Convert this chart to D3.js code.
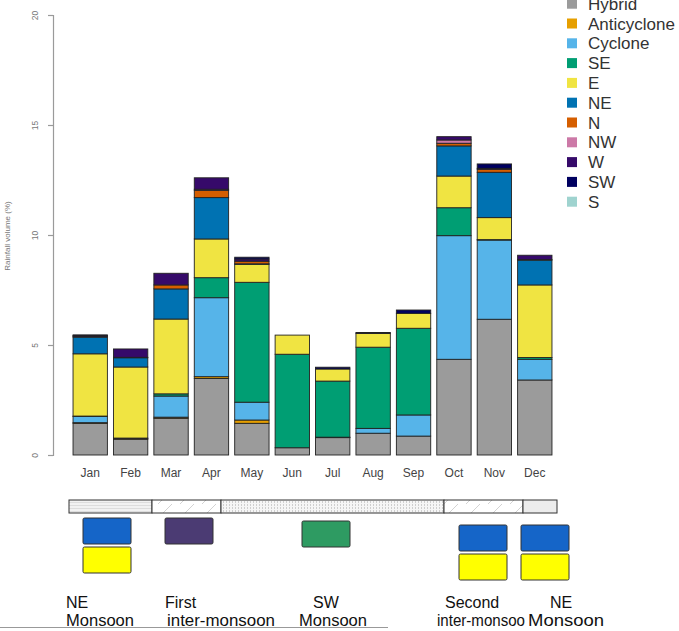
<!DOCTYPE html>
<html>
<head>
<meta charset="utf-8">
<script src="https://cdn.jsdelivr.net/npm/d3@7"></script>
<style>
  html, body { margin: 0; padding: 0; background: #fff; }
  svg { display: block; font-family: "Liberation Sans", Arial, sans-serif; }
</style>
</head>
<body>
<svg id="chart" width="679" height="631"></svg>
<script>
// ---------- data ----------
const months = ["Jan","Feb","Mar","Apr","May","Jun","Jul","Aug","Sep","Oct","Nov","Dec"];
const seriesNames = ["Hybrid","Anticyclone","Cyclone","SE","E","NE","N","NW","W","SW","S"];
const hybrid      = [1.44, 0.72, 1.67, 3.48, 1.44, 0.33, 0.79, 0.99, 0.86, 4.35, 6.17, 3.41];
const anticyclone = [0.03, 0.02, 0.05, 0.08, 0.15, 0.00, 0.00, 0.00, 0.00, 0.00, 0.00, 0.00];
const cyclone     = [0.28, 0.00, 0.96, 3.59, 0.81, 0.00, 0.02, 0.22, 0.96, 5.62, 3.60, 0.94];
const se          = [0.02, 0.03, 0.10, 0.91, 5.45, 4.25, 2.55, 3.69, 3.94, 1.27, 0.02, 0.08];
const e           = [2.83, 3.23, 3.40, 1.76, 0.82, 0.87, 0.55, 0.63, 0.68, 1.44, 1.00, 3.30];
const ne          = [0.76, 0.42, 1.37, 1.88, 0.02, 0.00, 0.00, 0.00, 0.00, 1.37, 2.06, 1.13];
const n           = [0.02, 0.02, 0.18, 0.33, 0.12, 0.00, 0.00, 0.00, 0.00, 0.12, 0.14, 0.02];
const nw          = [0.00, 0.00, 0.00, 0.05, 0.00, 0.00, 0.00, 0.00, 0.00, 0.15, 0.00, 0.00];
const w           = [0.05, 0.38, 0.53, 0.52, 0.10, 0.00, 0.00, 0.00, 0.00, 0.15, 0.04, 0.20];
const sw          = [0.03, 0.00, 0.00, 0.00, 0.08, 0.00, 0.08, 0.04, 0.15, 0.00, 0.20, 0.00];
const s           = [0.00, 0.00, 0.00, 0.00, 0.00, 0.00, 0.00, 0.00, 0.00, 0.00, 0.00, 0.00];
const seriesColors = ["#9b9b9b","#e69f00","#56b4e9","#009e73","#f0e442","#0072b2","#d55e00","#cc79a7","#360a6a","#000060","#9fd3cf"];
const yTicks = [0, 5, 10, 15, 20];

// seasons and their wind boxes
const seasonNames = ["NE Monsoon","First inter-monsoon","SW Monsoon","Second inter-monsoon","NE Monsoon"];
const seasonLabel1 = ["NE", "First", "SW", "Second", "NE"];
const seasonLabel2 = ["Monsoon", "inter-monsoon", "Monsoon", "inter-monsoo", "Monsoon"];
const seasonBoxColors = [["#1565c8","#ffff00"],["#4b3b73"],["#2e9b62"],["#1565c8","#ffff00"],["#1565c8","#ffff00"]];

// ---------- build table ----------
const cols = [hybrid, anticyclone, cyclone, se, e, ne, n, nw, w, sw, s];
const table = months.map((m, i) => {
  const row = { month: m };
  seriesNames.forEach((k, j) => row[k] = cols[j][i]);
  return row;
});

const svg = d3.select("#chart");

const x = d3.scaleBand().domain(months).range([70, 555]).paddingInner(0.15).paddingOuter(0.075);
const y = d3.scaleLinear().domain([0, 20]).range([455, 15]);
const color = d3.scaleOrdinal().domain(seriesNames).range(seriesColors);

const stack = d3.stack().keys(seriesNames)(table);

// bars
svg.append("g").selectAll("g").data(stack).join("g")
  .attr("fill", d => color(d.key))
  .selectAll("rect").data(d => d.filter(p => p[1] - p[0] > 0)).join("rect")
  .attr("x", d => x(d.data.month))
  .attr("width", x.bandwidth())
  .attr("y", d => y(d[1]))
  .attr("height", d => y(d[0]) - y(d[1]))
  .attr("stroke", "#222")
  .attr("stroke-width", 0.9);

// y axis
const yAxis = svg.append("g").attr("transform", "translate(53,0)")
  .call(d3.axisLeft(y).tickValues(yTicks).tickSize(5).tickFormat(d3.format("d")));
yAxis.select(".domain").attr("stroke", "#9a9a9a").attr("stroke-width", 1.2);
yAxis.selectAll(".tick line").attr("stroke", "#9a9a9a").attr("stroke-width", 1.2);
yAxis.selectAll(".tick text")
  .attr("fill", "#777").attr("font-size", 8.5)
  .attr("x", 0).attr("dy", 0)
  .attr("text-anchor", "middle")
  .attr("transform", "translate(-15,0) rotate(-90)");

svg.append("text")
  .attr("transform", "translate(10,236) rotate(-90)")
  .attr("text-anchor", "middle")
  .attr("font-size", 8).attr("fill", "#777")
  .text("Rainfall volume (%)");

// x labels
svg.append("g").selectAll("text").data(months).join("text")
  .attr("x", d => x(d) + x.bandwidth() / 2)
  .attr("y", 477)
  .attr("text-anchor", "middle")
  .attr("font-size", 12).attr("fill", "#444")
  .text(d => d);

// legend
const lg = svg.append("g");
seriesNames.forEach((k, i) => {
  const cy = 3.7 + i * 19.8;
  lg.append("rect").attr("x", 567).attr("y", cy - 5).attr("width", 10).attr("height", 10).attr("fill", color(k));
  lg.append("text").attr("x", 588).attr("y", cy + 6).attr("font-size", 17).attr("fill", "#333").text(k);
});

// ---------- season band ----------
const defs = svg.append("defs");
const p1 = defs.append("pattern").attr("id", "pHoriz").attr("patternUnits", "userSpaceOnUse").attr("width", 4).attr("height", 3);
p1.append("rect").attr("width", 4).attr("height", 3).attr("fill", "#f2f2f2");
p1.append("line").attr("x1", 0).attr("x2", 4).attr("y1", 1.5).attr("y2", 1.5).attr("stroke", "#d8d8d8").attr("stroke-width", 0.8);
const p2 = defs.append("pattern").attr("id", "pDiag").attr("patternUnits", "userSpaceOnUse").attr("width", 22).attr("height", 14);
p2.append("rect").attr("width", 22).attr("height", 14).attr("fill", "#fff");
p2.append("line").attr("x1", 4).attr("y1", 14).attr("x2", 18).attr("y2", 0).attr("stroke", "#c8c8c8").attr("stroke-width", 0.8);
const p3 = defs.append("pattern").attr("id", "pVert").attr("patternUnits", "userSpaceOnUse").attr("width", 3).attr("height", 3);
p3.append("rect").attr("width", 3).attr("height", 3).attr("fill", "#f6f6f6");
p3.append("rect").attr("x", 1).attr("y", 0).attr("width", 1).attr("height", 2).attr("fill", "#cfcfcf");
const p5 = defs.append("pattern").attr("id", "pLight").attr("patternUnits", "userSpaceOnUse").attr("width", 4).attr("height", 4);
p5.append("rect").attr("width", 4).attr("height", 4).attr("fill", "#ececec");

const bandFills = ["url(#pHoriz)", "url(#pDiag)", "url(#pVert)", "url(#pDiag)", "url(#pLight)"];
const bandX0 = [69, 152, 221, 444, 523];
const bandX1 = [152, 221, 444, 523, 557];
const band = svg.append("g");
seasonNames.forEach((nm, i) => {
  band.append("rect").attr("x", bandX0[i]).attr("y", 500).attr("width", bandX1[i] - bandX0[i]).attr("height", 13)
    .attr("fill", bandFills[i]).attr("stroke", "#333").attr("stroke-width", 1);
});

// season wind boxes
const boxX = [83, 165, 302, 459, 521];
const boxY = [518, 518, 521, 525, 525];
seasonBoxColors.forEach((cs, i) => {
  cs.forEach((c, j) => {
    band.append("rect").attr("x", boxX[i]).attr("y", boxY[i] + j * 29).attr("width", 48).attr("height", 26)
      .attr("rx", 1.5).attr("fill", c).attr("stroke", "#333").attr("stroke-width", 1);
  });
});

// season labels
const labX = [66, 167, 299, 437, 528];
const labW = [68, 108, 68, 88, 76];
const labX1 = [66, 165, 313, 445, 550];
seasonNames.forEach((nm, i) => {
  band.append("text").attr("x", labX1[i]).attr("y", 608).attr("font-size", 16).attr("fill", "#111").text(seasonLabel1[i]);
  band.append("text").attr("x", labX[i]).attr("y", 626).attr("font-size", 16).attr("fill", "#111")
    .attr("textLength", labW[i]).attr("lengthAdjust", "spacingAndGlyphs").text(seasonLabel2[i]);
});
svg.append("line").attr("x1", 0).attr("x2", 388).attr("y1", 627.5).attr("y2", 627.5).attr("stroke", "#999").attr("stroke-width", 1);
</script>
</body>
</html>
